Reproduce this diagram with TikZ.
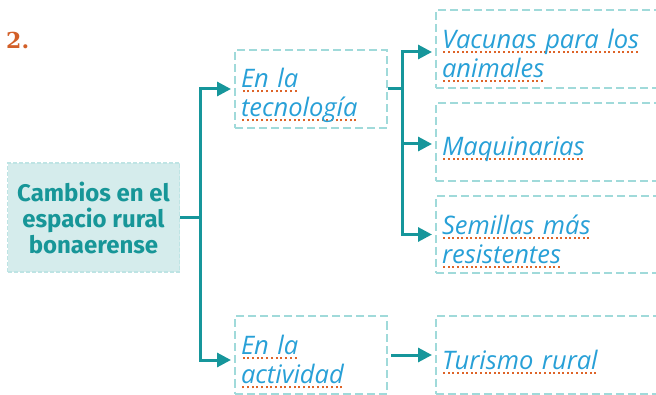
\documentclass[tikz,border=0pt]{standalone}
\usepackage{fontspec}
\usepackage{tikz}
\usetikzlibrary{arrows.meta}

\newfontfamily\titlefont{Fira Sans}
\newfontfamily\handfont{Open Sans}
\newfontfamily\numfont{DejaVu Serif}

\definecolor{linkteal}{RGB}{22,150,155}
\definecolor{titleteal}{RGB}{23,150,152}
\definecolor{mainfill}{RGB}{213,236,236}
\definecolor{mainedge}{RGB}{190,228,228}
\definecolor{boxteal}{RGB}{160,218,218}
\definecolor{handblue}{RGB}{40,160,215}
\definecolor{dotorange}{RGB}{222,100,40}
\definecolor{numorange}{RGB}{210,95,40}

% dotted orange line under a word
\newcommand{\dotul}[1]{\setbox0=\hbox{#1}\leavevmode\rlap{\raisebox{-4.5pt}{\color{dotorange}\hbox to \wd0{\xleaders\hbox to 4.5pt{\hss\vrule width 2pt height 2pt depth 0pt\hss}\hfill}}}\box0}

\begin{document}
\begin{tikzpicture}[x=1pt,y=-1pt,
    link/.style={draw=linkteal,line width=3pt},
    tip/.style={-{Triangle[length=14pt,width=14pt]},shorten >=3pt},
    dbox/.style={draw=boxteal,dash pattern=on 8pt off 4pt,line width=2pt,
      inner xsep=6pt,align=left,text=handblue,
      execute at begin node={\rule{0pt}{33pt}},
      font=\handfont\itshape\fontsize{25.5}{29}\selectfont}]
    \clip (0,0) rectangle (656,395);
    % Number
    \node[anchor=base west,text=numorange,inner sep=0pt,
      font=\numfont\bfseries\fontsize{22}{22}\selectfont] (num) at (6,49) {2.};
    % Main box
    \node[fill=mainfill,draw=mainedge,dash pattern=on 4pt off 2pt,line width=1.5pt,
      minimum width=172,minimum height=109,align=center,text=titleteal,
      font=\titlefont\bfseries\fontsize{24}{26}\selectfont] (main) at (93.5,217.5)
      {Cambios en el\\espacio rural\\bonaerense};
    % Middle boxes
    \node[dbox,text width=140,minimum height=78] (tec) at (311,89)
      {\dotul{En la}\\\dotul{tecnología}};
    \node[dbox,text width=140,minimum height=77] (act) at (311,355)
      {\dotul{En la}\\\dotul{actividad}};
    % Right boxes
    \node[dbox,text width=242,minimum height=78] (vac) at (563,49)
      {\dotul{Vacunas para los}\\\dotul{animales}};
    \node[dbox,text width=242,minimum height=78] (maq) at (563,142)
      {\dotul{Maquinarias}};
    \node[dbox,text width=242,minimum height=77] (sem) at (563,234.5)
      {\dotul{Semillas más}\\\dotul{resistentes}};
    \node[dbox,text width=242,minimum height=77] (tur) at (563,355)
      {\dotul{Turismo rural}};
    % Connectors
    \coordinate (j1) at (200,217.5);
    \coordinate (j2) at (402,89);
    \draw[link] (main.east) -- (j1);
    \draw[link,tip] (j1) |- (tec.west);
    \draw[link,tip] (j1) |- ([yshift=-5pt]act.west);
    \draw[link] (tec.east) -- (j2);
    \draw[link,tip] (j2) |- ([yshift=-3pt]vac.west);
    \draw[link,tip] (j2) |- ([yshift=-2pt]maq.west);
    \draw[link,tip] (j2) |- (sem.west);
    \draw[link,tip] ([xshift=3pt]act.east) -- (tur.west);
\end{tikzpicture}
\end{document}
